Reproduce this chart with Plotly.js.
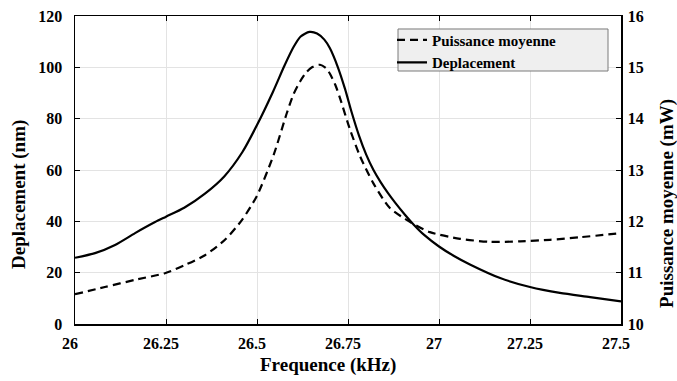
<!DOCTYPE html>
<html>
<head>
<meta charset="utf-8">
<script src="https://cdn.plot.ly/plotly-3.0.1.min.js"></script>
<style>
html,body{margin:0;padding:0;background:#fff;}
#chart{width:677px;height:381px;}
</style>
</head>
<body>
<div id="chart"></div>
<script>
// Deplacement (left axis, nm)
const freqDep = [26.0, 26.055, 26.11, 26.165, 26.22, 26.25, 26.30, 26.357, 26.41, 26.46, 26.50, 26.544, 26.575, 26.60, 26.62, 26.644, 26.665, 26.685, 26.70, 26.721, 26.742, 26.76, 26.78, 26.80, 26.82, 26.84, 26.86, 26.88, 26.907, 26.93, 26.96, 27.0, 27.04, 27.085, 27.168, 27.25, 27.332, 27.415, 27.5];
const deplacement = [25.8, 27.6, 30.8, 35.4, 39.7, 41.8, 45.3, 50.8, 57.5, 67, 77.5, 90.5, 100.5, 107.8, 112, 113.8, 113.2, 110.8, 107.5, 100.5, 91.5, 82.5, 73.5, 66, 60, 55.2, 51, 47.2, 42.5, 38.8, 34.6, 30.2, 26.6, 23.2, 17.9, 14.4, 12.1, 10.5, 8.8];

// Puissance moyenne (right axis, mW)
const freqPow = [26.0, 26.082, 26.165, 26.247, 26.302, 26.357, 26.412, 26.459, 26.5, 26.546, 26.582, 26.6, 26.618, 26.635, 26.651, 26.673, 26.69, 26.7, 26.715, 26.728, 26.755, 26.783, 26.819, 26.865, 26.92, 26.975, 27.058, 27.14, 27.223, 27.305, 27.387, 27.5];
const puissance = [10.58, 10.72, 10.86, 10.99, 11.15, 11.34, 11.64, 12.03, 12.5, 13.3, 14.11, 14.47, 14.72, 14.9, 15.0, 15.05, 14.98, 14.88, 14.66, 14.4, 13.8, 13.27, 12.75, 12.26, 11.99, 11.79, 11.66, 11.60, 11.61, 11.64, 11.69, 11.77];

const xTicks = [26, 26.25, 26.5, 26.75, 27, 27.25, 27.5];
const xTickText = ['26', '26.25', '26.5', '26.75', '27', '27.25', '27.5'];
const yLeftTicks = [0, 20, 40, 60, 80, 100, 120];
const yRightTicks = [10, 11, 12, 13, 14, 15, 16];
const xTitle = 'Frequence (kHz)';
const yLeftTitle = 'Deplacement (nm)';
const yRightTitle = 'Puissance moyenne (mW)';

const FONT = '"Liberation Serif", "Times New Roman", serif';
const tf = {family: FONT, size: 16, color: '#000', weight: 'bold'};
const titf = {family: FONT, size: 19, color: '#000', weight: 'bold'};

const traces = [
  {x: freqPow, y: puissance, yaxis: 'y2', type: 'scatter', mode: 'lines',
   name: 'Puissance moyenne', line: {color: '#000', width: 2.2, dash: '8px,5px', shape: 'spline', smoothing: 0.7}},
  {x: freqDep, y: deplacement, yaxis: 'y', type: 'scatter', mode: 'lines',
   name: 'Deplacement', line: {color: '#000', width: 2.2, shape: 'spline', smoothing: 0.7}}
];

const layout = {
  width: 677, height: 381,
  margin: {l: 75, r: 56, t: 16, b: 57, pad: 0},
  paper_bgcolor: '#fff', plot_bgcolor: '#fff',
  font: {family: FONT, size: 16, color: '#000', weight: 'bold'},
  showlegend: true,
  legend: {x: 0.5806, y: 0.975, xanchor: 'left', yanchor: 'top',
    bgcolor: 'rgba(0,0,0,0)', borderwidth: 0,
    font: {family: FONT, size: 15, color: '#000', weight: 'bold'},
    tracegroupgap: 0, itemwidth: 30},
  shapes: [
    {type: 'rect', xref: 'paper', yref: 'paper', x0: 0.5916, x1: 0.9762, y0: 0.8214, y1: 0.9578,
     fillcolor: '#efefef', line: {color: '#7a7a7a', width: 1}, layer: 'above'}
  ],
  annotations: [
    {text: xTitle, xref: 'paper', yref: 'paper', x: 0.4634, y: -0.133, xanchor: 'center', yanchor: 'middle',
     showarrow: false, font: titf},
    {text: yLeftTitle, xref: 'paper', yref: 'paper', x: -0.1026, y: 0.422, xanchor: 'center', yanchor: 'middle',
     textangle: -90, showarrow: false, font: titf},
    {text: yRightTitle, xref: 'paper', yref: 'paper', x: 1.0842, y: 0.393, xanchor: 'center', yanchor: 'middle',
     textangle: -90, showarrow: false, font: titf}
  ],
  xaxis: {range: [26, 27.5], tickvals: xTicks, ticktext: xTickText,
    showgrid: true, gridcolor: '#e3e3e3', gridwidth: 1,
    showline: true, linecolor: '#000', linewidth: 1.5, mirror: 'ticks',
    ticks: 'inside', ticklen: 5, tickcolor: '#000', tickwidth: 1,
    tickfont: tf, ticklabelstandoff: 4, ticklabelshift: -5, zeroline: false},
  yaxis: {range: [0, 120], tickvals: yLeftTicks,
    showgrid: true, gridcolor: '#e3e3e3', gridwidth: 1,
    showline: true, linecolor: '#000', linewidth: 1.5,
    ticks: 'inside', ticklen: 5, tickcolor: '#000', tickwidth: 1,
    tickfont: tf, ticklabelstandoff: 8, zeroline: false},
  yaxis2: {range: [10, 16], tickvals: yRightTicks, overlaying: 'y', side: 'right',
    showgrid: false, showline: true, linecolor: '#000', linewidth: 1.5,
    ticks: 'inside', ticklen: 5, tickcolor: '#000', tickwidth: 1,
    tickfont: tf, ticklabelstandoff: 2, zeroline: false}
};

Plotly.newPlot('chart', traces, layout, {displayModeBar: false, staticPlot: true});
</script>
</body>
</html>
